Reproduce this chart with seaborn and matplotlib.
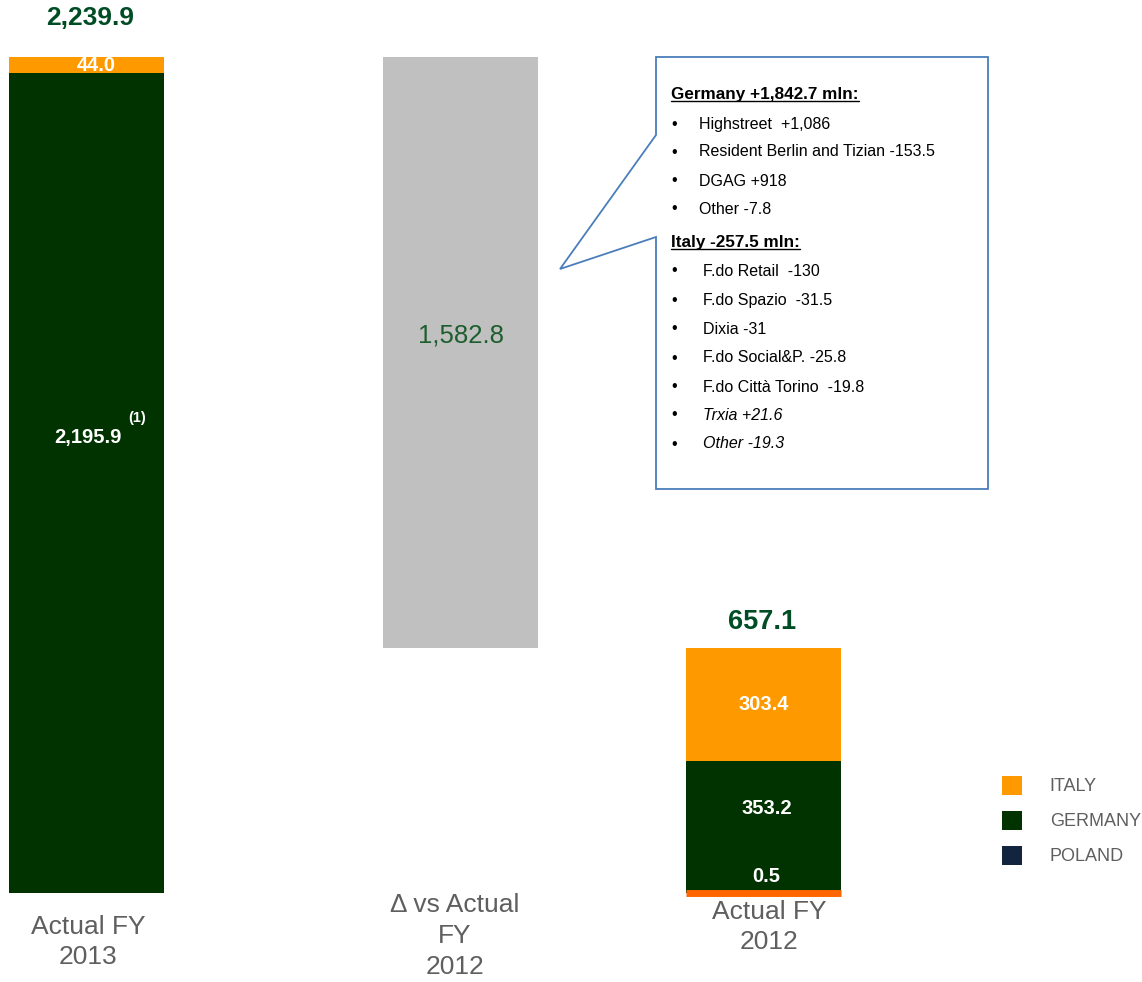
import numpy as np
import pandas as pd
import matplotlib
matplotlib.use("Agg")
import matplotlib.pyplot as plt
import seaborn as sns
from matplotlib.patches import Polygon, Patch
from matplotlib.lines import Line2D

# ---------------- data ----------------
categories = ["Actual FY\n2013", "\u0394 vs Actual\nFY\n2012", "Actual FY\n2012"]
fy2013_italy = 44.0
fy2013_germany = 2195.9
fy2013_total = 2239.9
delta_value = 1582.8
fy2012_italy = 303.4
fy2012_germany = 353.2
fy2012_poland = 0.5
fy2012_total = 657.1
legend_labels = ["ITALY", "GERMANY", "POLAND"]
germany_header = "Germany +1,842.7 mln:"
germany_items = ["Highstreet  +1,086", "Resident Berlin and Tizian -153.5",
                 "DGAG +918", "Other -7.8"]
italy_header = "Italy -257.5 mln:"
italy_items = ["F.do Retail  -130", "F.do Spazio  -31.5", "Dixia -31",
               "F.do Social&P. -25.8", "F.do Citt\u00e0 Torino  -19.8",
               "Trxia +21.6", "Other -19.3"]
italic_items = ["Trxia +21.6", "Other -19.3"]

# ---------------- style ----------------
C_ITALY = "#FF9900"
C_GERMANY = "#003300"
C_POLAND_LEG = "#13243F"
C_POLAND_BAR = "#FF6600"
C_DELTA = "#C0C0C0"
C_TOTAL = "#004D25"
C_GRAY = "#5F5F5F"
C_BOX = "#4A7EBB"

sns.set_theme(style="white")
plt.rcParams["font.family"] = ["Liberation Sans", "DejaVu Sans"]

W, H = 1142, 982
BASE_PY = 893.0
K = 836.0 / fy2013_total  # pixels per unit

fig = plt.figure(figsize=(W / 100, H / 100), dpi=100)
ax = fig.add_axes([0, 0, 1, 1])

def P(x, py):
    return x, (BASE_PY - py) / K

BAR_X = [86.5, 460.5, 763.5]
BAR_W = 155

segments = pd.DataFrame({
    "x": [BAR_X[0], BAR_X[0], BAR_X[1], BAR_X[2], BAR_X[2], BAR_X[2]],
    "height": [fy2013_germany, fy2013_italy, delta_value,
               fy2012_germany, fy2012_italy, fy2012_poland],
    "bottom": [0.0, fy2013_germany, fy2012_total,
               fy2012_poland, fy2012_poland + fy2012_germany, 0.0],
    "color": [C_GERMANY, C_ITALY, C_DELTA, C_GERMANY, C_ITALY, C_POLAND_BAR],
    "lw": [0, 0, 0, 0, 0, 5],
})

for _, r in segments.iterrows():
    sns.barplot(x=[r["x"]], y=[r["height"]], native_scale=True, orient="x",
                width=BAR_W, bottom=r["bottom"], color=r["color"],
                saturation=1, errorbar=None, ax=ax,
                linewidth=r["lw"], edgecolor=r["color"])

ax.set_xlim(0, W)
ax.set_ylim(-(H - BASE_PY) / K, BASE_PY / K)
ax.axis("off")

# ---------------- value labels ----------------
def px_off(v, dpx):
    return v + dpx / K

ax.text(BAR_X[0] + 4, px_off(fy2013_total, 39), f"{fy2013_total:,.1f}",
        ha="center", va="center", fontsize=19, fontweight="bold", color=C_TOTAL)
ax.text(BAR_X[0] + 10, fy2013_germany + fy2013_italy / 2, f"{fy2013_italy:,.1f}",
        ha="center", va="center", fontsize=14.5, fontweight="bold", color="white")
ax.text(BAR_X[0] + 1, P(0, 437)[1], f"{fy2013_germany:,.1f}",
        ha="center", va="center", fontsize=14.5, fontweight="bold", color="white")
ax.text(*P(137, 418), "(1)", ha="center", va="center", fontsize=10.5,
        fontweight="bold", color="white")
ax.text(BAR_X[1], P(0, 336)[1], f"{delta_value:,.1f}", ha="center", va="center",
        fontsize=18.5, color="#1E5E2E")
ax.text(BAR_X[2] - 1, px_off(fy2012_total, 26), f"{fy2012_total:,.1f}",
        ha="center", va="center", fontsize=19.5, fontweight="bold", color=C_TOTAL)
ax.text(BAR_X[2], fy2012_poland + fy2012_germany + fy2012_italy / 2,
        f"{fy2012_italy:,.1f}", ha="center", va="center", fontsize=14.5,
        fontweight="bold", color="white")
ax.text(BAR_X[2] + 3, fy2012_poland + fy2012_germany / 2 + 18 / K,
        f"{fy2012_germany:,.1f}", ha="center", va="center", fontsize=14.5,
        fontweight="bold", color="white")
ax.text(BAR_X[2] + 3, px_off(0, 17), f"{fy2012_poland:,.1f}", ha="center",
        va="center", fontsize=14.5, fontweight="bold", color="white", zorder=4)

# ---------------- category labels ----------------
cat_centers = [(88, 942), (455, 936), (769, 927)]
for lab, (cx, cy) in zip(categories, cat_centers):
    ax.text(*P(cx, cy), lab, ha="center", va="center", multialignment="center",
            fontsize=19, color=C_GRAY, linespacing=1.36)

# ---------------- legend ----------------
handles = [Patch(facecolor=C_ITALY, edgecolor="none"),
           Patch(facecolor=C_GERMANY, edgecolor="none"),
           Patch(facecolor=C_POLAND_LEG, edgecolor="none")]
leg = ax.legend(handles, legend_labels, loc="upper left",
                bbox_to_anchor=(1002 / W, 1 - 776 / H), borderaxespad=0,
                borderpad=0, frameon=False, fontsize=13, handlelength=1.1,
                handleheight=1.22, handletextpad=1.55, labelspacing=0.86)
for t in leg.get_texts():
    t.set_color(C_GRAY)

# ---------------- callout ----------------
box_pts = [(656, 57), (988, 57), (988, 489), (656, 489), (656, 237),
           (560, 269), (656, 135)]
poly = Polygon([P(x, y) for x, y in box_pts], closed=True, facecolor="white",
               edgecolor=C_BOX, linewidth=1.3, zorder=5)
ax.add_patch(poly)

hdr1 = ax.text(*P(671, 99), germany_header, ha="left", va="baseline",
               fontsize=12.3, fontweight="bold", color="black", zorder=6)
g_y = [124, 152, 181, 209]
for item, y in zip(germany_items, g_y):
    ax.text(*P(674, y), "\u2022", ha="center", va="center", fontsize=11.5,
            color="black", zorder=6)
    ax.text(*P(699, y), item, ha="left", va="center", fontsize=11.5,
            color="black", zorder=6)
hdr2 = ax.text(*P(671, 247), italy_header, ha="left", va="baseline",
               fontsize=12.3, fontweight="bold", color="black", zorder=6)
i_y = [271, 300, 329, 358, 387, 415, 444]
for item, y in zip(italy_items, i_y):
    ax.text(*P(674, y), "\u2022", ha="center", va="center", fontsize=11.5,
            color="black", zorder=6)
    ax.text(*P(703, y), item, ha="left", va="center", fontsize=11.5,
            color="black", zorder=6,
            style="italic" if item in italic_items else "normal")

# underline headers
fig.canvas.draw()
renderer = fig.canvas.get_renderer()
inv = ax.transData.inverted()
for t, base_py in [(hdr1, 99), (hdr2, 247)]:
    bb = t.get_window_extent(renderer)
    x0 = inv.transform((bb.x0, 0))[0]
    x1 = inv.transform((bb.x1, 0))[0]
    yy = P(0, base_py + 2)[1]
    ax.add_line(Line2D([x0, x1], [yy, yy], color="black", linewidth=1.0, zorder=6))

fig.savefig("out.png", dpi=100)
